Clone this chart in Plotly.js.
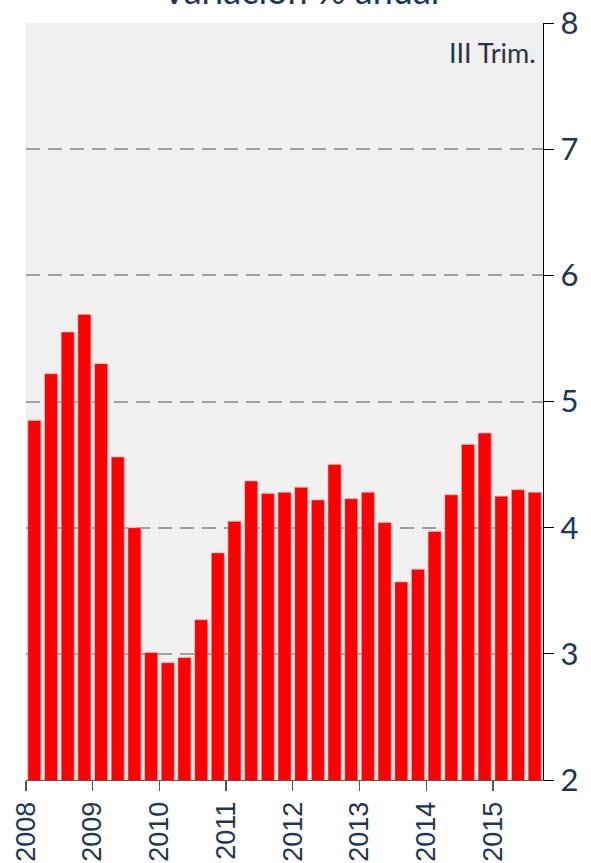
<!DOCTYPE html>
<html>
<head>
<meta charset="utf-8">
<script src="https://cdn.plot.ly/plotly-3.0.1.min.js"></script>
<style>html,body{margin:0;padding:0;background:#fff;}#chart{width:591px;height:863px;}</style>
</head>
<body>
<div id="chart"></div>
<script>
// Quarterly series, 2008 Q1 .. 2015 Q3 (variación % anual)
const quarters = ["2008 I","2008 II","2008 III","2008 IV","2009 I","2009 II","2009 III","2009 IV",
  "2010 I","2010 II","2010 III","2010 IV","2011 I","2011 II","2011 III","2011 IV",
  "2012 I","2012 II","2012 III","2012 IV","2013 I","2013 II","2013 III","2013 IV",
  "2014 I","2014 II","2014 III","2014 IV","2015 I","2015 II","2015 III"];
const values = [4.85,5.22,5.55,5.69,5.30,4.56,4.00,3.01,
  2.93,2.97,3.27,3.80,4.05,4.37,4.27,4.28,
  4.32,4.22,4.50,4.23,4.28,4.04,3.57,3.67,
  3.97,4.26,4.66,4.75,4.25,4.30,4.28];
const yearLabels = ["2008","2009","2010","2011","2012","2013","2014","2015"];
const yTicks = [2,3,4,5,6,7,8];
const titleText = "Variación % anual";
const noteText = "III Trim.";

const xPos = quarters.map((q, i) => i + 0.5);
const yearTickVals = yearLabels.map((y, i) => i * 4);

const navy = "#1f3555";
const data = [{
  type: "bar",
  x: xPos,
  y: values,
  base: 0,
  width: 0.78,
  marker: {color: "#ff0000", line: {color: "#ffb0b0", width: 0.6}},
  hoverinfo: "skip"
}];

const layout = {
  width: 591, height: 863,
  margin: {l: 26, r: 48, t: 23, b: 83},
  paper_bgcolor: "#ffffff",
  plot_bgcolor: "#f0f0f0",
  showlegend: false,
  xaxis: {
    range: [0, 31],
    tickmode: "array",
    tickvals: yearTickVals,
    ticktext: yearLabels,
    tickangle: -90,
    ticks: "outside",
    ticklen: 10,
    tickcolor: "#555555",
    tickwidth: 1.3,
    showgrid: false,
    zeroline: false,
    showline: true,
    linecolor: "#555555",
    linewidth: 1,
    tickfont: {family: "Liberation Sans, Arial, sans-serif", size: 27, color: navy},
    fixedrange: true
  },
  yaxis: {
    range: [2, 8],
    side: "right",
    tickmode: "array",
    tickvals: yTicks,
    ticks: "outside",
    ticklen: 10,
    tickcolor: "#000000",
    showline: true,
    linecolor: "#000000",
    linewidth: 1.3,
    showgrid: true,
    gridcolor: "#a0a0a0",
    griddash: "14px,8px",
    gridwidth: 2,
    zeroline: false,
    tickfont: {family: "Lato, Open Sans, sans-serif", size: 31, color: navy},
    fixedrange: true
  },
  annotations: [
    {
      text: titleText, xref: "paper", yref: "paper", x: 0.53, y: 1,
      xanchor: "center", yanchor: "bottom", yshift: 9, showarrow: false,
      font: {family: "Lato, Open Sans, sans-serif", size: 36, color: navy}
    },
    {
      text: noteText, xref: "paper", yref: "paper", x: 0.99, y: 0.961,
      xanchor: "right", yanchor: "middle", showarrow: false,
      font: {family: "Lato, Open Sans, sans-serif", size: 27, color: navy}
    }
  ]
};

Plotly.newPlot("chart", data, layout, {displayModeBar: false, staticPlot: true});
</script>
</body>
</html>
